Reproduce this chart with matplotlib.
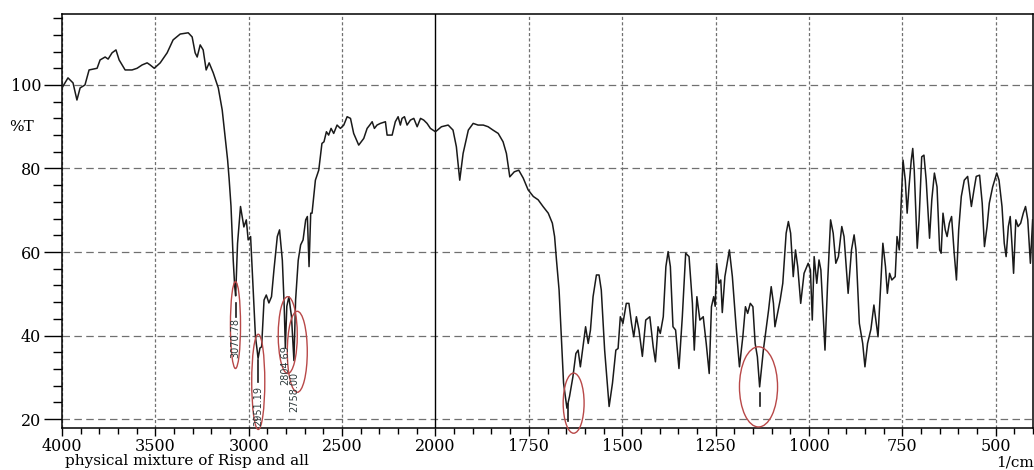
import numpy as np
import matplotlib
matplotlib.use("Agg")
import matplotlib.pyplot as plt
from matplotlib.patches import Ellipse
from matplotlib.ticker import FixedLocator, NullFormatter

# IR spectrum, wavenumber (1/cm) vs %T
wavenumber = [
    4000, 3968, 3941, 3920, 3903, 3877, 3855, 3812, 3796, 3769, 3753, 3732, 3711, 3694,
    3662, 3625, 3598, 3571, 3544, 3528, 3506, 3474, 3437, 3405, 3367, 3324, 3303, 3287,
    3276, 3260, 3244, 3228, 3212, 3190, 3163, 3142, 3113, 3105, 3095, 3083, 3075, 3070,
    3060, 3044, 3026, 3013, 3003, 2990, 2977, 2964, 2955, 2950, 2940, 2931, 2918, 2906,
    2892, 2878, 2865, 2847, 2835, 2820, 2810, 2804, 2796, 2785, 2771, 2758, 2749, 2735,
    2722, 2709, 2695, 2686, 2677, 2668, 2661, 2643, 2625, 2608, 2597, 2584, 2572, 2559,
    2545, 2527, 2509, 2491, 2473, 2455, 2438, 2411, 2384, 2366, 2352, 2339, 2327, 2313,
    2295, 2268, 2259, 2232, 2215, 2200, 2188, 2179, 2166, 2152, 2134, 2116, 2098, 2080,
    2063, 2045, 2027, 2000,
    1984, 1966, 1953, 1944, 1935, 1926, 1912, 1899, 1886, 1872, 1859, 1846, 1832, 1819,
    1810, 1801, 1789, 1777, 1765, 1752, 1738, 1725, 1712, 1698, 1687, 1681, 1676, 1669,
    1663, 1657, 1648, 1641, 1632, 1624, 1618, 1612, 1605, 1598, 1591, 1585, 1578, 1569,
    1562, 1556, 1547, 1535, 1526, 1517, 1511, 1505, 1498, 1489, 1482, 1475, 1469, 1462,
    1455, 1446, 1437, 1426, 1417, 1411, 1404, 1398, 1390, 1383, 1377, 1371, 1364, 1357,
    1348, 1339, 1330, 1321, 1312, 1307, 1300, 1292, 1283, 1275, 1267, 1261, 1255, 1251,
    1247, 1241, 1236, 1232, 1225, 1213, 1205, 1195, 1186, 1177, 1170, 1164, 1157, 1150,
    1144, 1138, 1132, 1122, 1115, 1108, 1101, 1095, 1091, 1084, 1077, 1070, 1061, 1055,
    1049, 1042, 1036, 1030, 1022, 1013, 1002, 996, 991, 986, 979, 973, 968, 957,
    950, 942, 935, 928, 921, 912, 906, 895, 886, 879, 874, 865, 856, 850,
    843, 834, 826, 815, 808, 802, 795, 790, 784, 778, 769, 764, 758, 753,
    748, 742, 737, 732, 726, 722, 718, 710, 705, 698, 692, 686, 677, 671,
    664, 657, 650, 646, 641, 635, 630, 624, 618, 611, 605, 599, 592, 584,
    575, 565, 558, 552, 543, 536, 530, 523, 517, 508, 497, 491, 483, 477,
    472, 466, 461, 456, 452, 446, 440, 433, 426, 420, 414, 407, 401,
]
transmittance = [
    99.3, 101.7, 100.5, 96.4, 99.3, 100.0, 103.6, 104.0, 106.0, 106.7, 106.2, 107.7, 108.4, 106.0,
    103.6, 103.6, 104.0, 104.8, 105.3, 104.8, 104.0, 105.3, 107.7, 110.8, 112.2, 112.5, 111.5, 107.7,
    106.7, 109.6, 108.4, 103.6, 105.3, 102.9, 99.3, 94.0, 82.0, 77.5, 71.0, 58.0, 51.7, 49.5,
    62.0, 70.9, 66.0, 67.7, 62.9, 63.7, 51.7, 39.7, 36.5, 34.5, 37.0, 37.3, 48.5, 49.7,
    47.8, 49.3, 55.7, 63.7, 65.3, 58.0, 47.0, 37.0, 47.0, 49.3, 44.5, 34.0, 48.5, 58.0,
    61.7, 62.9, 67.7, 68.5, 56.5, 69.3, 69.3, 77.2, 79.6, 86.0, 86.4, 88.8, 88.0, 89.6,
    88.4, 90.4, 89.6, 90.4, 92.4, 92.0, 88.4, 85.6, 87.2, 89.6, 90.4, 91.2, 89.6, 90.4,
    90.8, 91.2, 88.0, 88.0, 91.2, 92.4, 90.4, 92.0, 92.4, 90.4, 91.6, 92.0, 90.0, 92.0,
    91.6, 90.8, 89.6, 88.8,
    90.0, 90.4, 89.2, 85.2, 77.2, 83.6, 89.2, 90.8, 90.4, 90.4, 90.0, 89.2, 88.4, 86.4,
    83.6, 78.0, 79.2, 79.6, 77.7, 74.9, 73.3, 72.5, 70.9, 69.3, 66.9, 63.7, 58.1, 50.9,
    39.7, 28.6, 22.6, 25.4, 30.1, 35.7, 36.5, 32.5, 37.3, 42.1, 38.1, 41.3, 49.3, 54.5,
    54.5, 50.9, 36.5, 23.0, 28.6, 36.5, 36.9, 44.5, 42.9, 47.7, 47.7, 42.9, 39.7, 44.5,
    41.3, 35.0, 43.7, 44.5, 37.3, 33.7, 42.1, 40.5, 44.5, 56.5, 60.1, 56.5, 42.1, 41.3,
    32.1, 44.5, 59.7, 58.9, 47.7, 36.5, 49.3, 43.7, 44.5, 38.1, 30.9, 46.9, 49.3, 47.0,
    57.3, 52.5, 53.3, 45.5, 54.1, 60.5, 54.1, 42.1, 32.5, 39.7, 46.9, 45.3, 47.7, 46.9,
    38.1, 34.9, 27.7, 36.5, 41.3, 46.1, 51.7, 47.7, 42.1, 45.3, 48.5, 52.5, 64.5, 67.3,
    64.5, 54.1, 60.5, 56.5, 47.7, 54.9, 57.3, 55.7, 43.7, 58.9, 52.5, 58.1, 55.7, 36.5,
    52.5, 67.7, 64.5, 57.3, 58.9, 66.1, 63.7, 50.1, 60.5, 64.1, 60.5, 42.9, 38.1, 32.5,
    38.1, 41.5, 47.3, 39.7, 51.7, 62.1, 56.5, 50.1, 54.9, 53.3, 54.1, 63.7, 60.5, 71.7,
    82.0, 77.2, 69.3, 75.6, 82.0, 84.8, 79.6, 60.9, 67.7, 82.8, 83.2, 77.2, 63.3, 72.5,
    78.9, 75.6, 60.5, 59.7, 69.3, 65.3, 63.7, 66.9, 68.5, 59.7, 53.3, 65.3, 73.3, 77.2,
    78.1, 70.9, 74.9, 78.1, 78.4, 71.7, 61.3, 66.1, 71.7, 75.6, 78.9, 77.2, 70.9, 62.1,
    58.9, 66.1, 68.5, 61.3, 54.9, 67.7, 66.1, 66.9, 69.3, 70.9, 67.7, 57.3, 67.7,
]

# labelled peaks
peak_names = ["3070.78", "2951.19", "2804.69", "2758.00"]
peak_wn = [3070.78, 2951.19, 2804.69, 2758.00]
peak_text_top = [44.1, 27.8, 37.7, 31.3]

# circled bands: centre wn, centre %T, width, height
circ_wn = [3071, 2949, 2791, 2740, 1630, 1135]
circ_t = [42.5, 28.9, 40.1, 36.1, 23.8, 27.7]
circ_w = [54, 70, 102, 107, 56, 102]
circ_h = [20.8, 22.8, 18.4, 19.4, 14.4, 19.2]

# short markers under peaks (wn, top, bottom)
mark_wn = [3070.78, 2951.19, 1646, 1131]
mark_top = [47.8, 34.1, 23.5, 26.3]
mark_bot = [44.4, 28.9, 19.6, 23.2]

major_x = [4000, 3500, 3000, 2500, 2000, 1750, 1500, 1250, 1000, 750, 500]
minor_x = [w for w in list(range(4000, 2000, -100)) + list(range(2000, 399, -50)) if w not in major_x]


# the axis is compressed by half above 2000 1/cm
def fwd(x):
    x = np.asarray(x, dtype=float)
    return np.where(x >= 2000, x, 2 * x - 2000)


def inv(u):
    u = np.asarray(u, dtype=float)
    return np.where(u >= 2000, u, (u + 2000) / 2)


plt.rcParams['font.family'] = 'DejaVu Serif'

fig = plt.figure(figsize=(10.34, 4.70), dpi=100)
ax = fig.add_axes([62 / 1034, 42 / 470, 971 / 1034, 414 / 470])
ax.set_xscale('function', functions=(fwd, inv))
ax.set_xlim(4000, 400)
ax.set_ylim(17.85, 117)

# grid
for y in [20, 40, 60, 80, 100]:
    ax.axhline(y, color='#707070', lw=0.9, ls=(0, (6, 3.5)), zorder=1)
for x in major_x:
    if x == 2000:
        ax.axvline(x, color='black', lw=1.0, zorder=1)
    else:
        ax.axvline(x, color='#707070', lw=0.9, ls=(0, (2.5, 1.8)), zorder=1)

ax.plot(wavenumber, transmittance, color='#1a1a1a', lw=1.1, zorder=3)

for cx, cy, w, h in zip(circ_wn, circ_t, circ_w, circ_h):
    ax.add_patch(Ellipse((cx, cy), w, h, fill=False, ec='#b84848', lw=1.0,
                         zorder=4, clip_on=False))

for x, t, b in zip(mark_wn, mark_top, mark_bot):
    ax.plot([x, x], [t, b], color='#1a1a1a', lw=1.2, zorder=4)

for name, x, top in zip(peak_names, peak_wn, peak_text_top):
    ax.text(x, top, name, rotation=90, ha='center', va='top', fontsize=7,
            family='DejaVu Sans', color='#2e3a3c', zorder=5)

ax.xaxis.set_major_locator(FixedLocator(major_x))
ax.xaxis.set_minor_locator(FixedLocator(minor_x))
ax.set_xticklabels([str(x) for x in major_x])
ax.xaxis.set_minor_formatter(NullFormatter())
ax.yaxis.set_major_locator(FixedLocator([20, 40, 60, 80, 100]))
ax.yaxis.set_minor_locator(FixedLocator([y for y in range(20, 117, 4) if y % 20]))

ax.tick_params(axis='x', which='major', length=6, width=1, pad=1, labelsize=11.5)
ax.tick_params(axis='x', which='minor', length=4, width=1)
ax.tick_params(axis='y', which='major', length=13, width=1, pad=2, labelsize=11.5)
ax.tick_params(axis='y', which='minor', length=6.5, width=1)
for s in ax.spines.values():
    s.set_linewidth(1.1)

fig.text(22 / 1034, 1 - 127 / 470, '%T', ha='center', va='center', fontsize=11)
fig.text(65 / 1034, 1 - 461 / 470, 'physical mixture of Risp and all', ha='left',
         va='center', fontsize=11)
fig.text(1034 / 1034, 1 - 463 / 470, '1/cm', ha='right', va='center', fontsize=11)

fig.savefig('out.png', dpi=100)
